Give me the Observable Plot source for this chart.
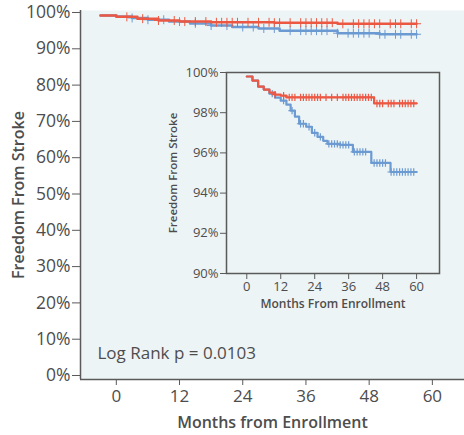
<!DOCTYPE html>
<html><head><meta charset="utf-8">
<script src="https://cdn.jsdelivr.net/npm/d3@7"></script>
<script src="https://cdn.jsdelivr.net/npm/@observablehq/plot@0.6"></script>
<style>
body{margin:0;background:#fff;}
#wrap{position:relative;width:464px;height:435px;}
#inset{position:absolute;left:160px;top:60px;}
svg{display:block;overflow:visible;}
</style></head><body><div id="wrap"><div id="main"></div><div id="inset"></div></div>
<script>
// ---- data: main chart (months, % freedom from stroke) ----
const mainRedT = [-3, 0, 4, 8, 12, 18, 30, 42, 57];
const mainRedS = [99.2, 98.8, 98.3, 97.8, 97.5, 97.3, 97.2, 96.9, 96.9];
const mainBlueT = [-3, 0, 3, 6, 10, 14, 18, 22, 27, 31, 42, 50, 57];
const mainBlueS = [99.2, 98.9, 98.5, 98.0, 97.5, 97.0, 96.4, 96.0, 95.6, 95.0, 94.3, 94.0, 94.0];
const mainRedCensor = [2, 5, 8, 11, 13, 15, 17, 19, 20, 21, 22, 23, 25, 27, 29, 30, 31, 33, 35, 36, 37, 38, 39, 40, 41, 43, 45, 46, 47, 48, 49, 50, 52, 53, 54, 56, 57];
const mainBlueCensor = [3, 6, 9, 12, 15, 18, 21, 24, 26, 28, 30, 33, 35, 36, 37, 38, 39, 40, 42, 44, 45, 46, 47, 48, 50, 51, 53, 54, 56, 57];
// ---- data: inset ----
const insetRedT = [0, 2, 4, 6, 8, 10, 12, 14, 45, 60];
const insetRedS = [99.8, 99.6, 99.3, 99.15, 99.0, 98.9, 98.85, 98.76, 98.46, 98.46];
const insetBlueT = [0, 2, 4, 6, 8, 10, 12, 14, 15.5, 17, 18.5, 21, 23, 25, 27, 28.5, 33, 37.5, 44, 50.8, 60];
const insetBlueS = [99.8, 99.6, 99.3, 99.15, 98.95, 98.75, 98.6, 98.4, 98.1, 97.8, 97.45, 97.3, 97.0, 96.8, 96.6, 96.45, 96.4, 96.05, 95.5, 95.05, 95.05];
const insetRedCensor = [10, 13, 15, 16, 17, 19, 20, 21, 22, 23, 24, 25, 26, 28, 30, 32, 34, 35, 36, 37, 38, 39, 40, 41, 42, 43, 44, 46, 47, 48, 50, 51, 52, 54, 55, 56, 57, 58, 59];
const insetBlueCensor = [9, 13, 16, 19, 20, 22, 24, 26, 29, 30, 31, 32, 33, 34, 35, 36, 38, 39, 40, 41, 42, 45, 46, 47, 48, 49, 51, 52, 53, 54, 55, 56, 57, 58, 59];
const xTicks = [0, 12, 24, 36, 48, 60];
const mainYTicks = [0, 0.1, 0.2, 0.3, 0.4, 0.5, 0.6, 0.7, 0.8, 0.9, 1.0];
const insetYTicks = [0.90, 0.92, 0.94, 0.96, 0.98, 1.00];

const RED = "#ec5843", BLUE = "#6c9ad2", BG = "#edf4f5", AX = "#5a5a5a", TXT = "#4d4d4d";
const FONT = "'Open Sans', sans-serif";

const rows = (T, S) => T.map((t, i) => ({t, s: S[i] / 100}));
function stepAt(T, S, t) { let v = S[0]; for (let i = 0; i < T.length; i++) if (T[i] <= t) v = S[i]; return v / 100; }
const cens = (C, T, S) => C.map(t => ({t, s: stepAt(T, S, t)}));

const mXd = [-6.8, 66.1], mYd = [-0.011, 1.0055];
const main = Plot.plot({
  width: 464, height: 435,
  marginLeft: 80, marginRight: 0, marginTop: 10, marginBottom: 56,
  style: {fontFamily: FONT, fontSize: "17px", color: TXT, background: "transparent"},
  x: {domain: mXd},
  y: {domain: mYd},
  marks: [
    Plot.frame({fill: BG, stroke: null}),
    Plot.axisY({ticks: mainYTicks, tickFormat: d3.format(".0%"), tickSize: 8, tickPadding: 2, label: null, stroke: AX, fontSize: 17.5}),
    Plot.axisX({ticks: xTicks, tickSize: 6, tickPadding: 4, label: null, stroke: AX, fontSize: 17}),
    Plot.ruleX([mXd[0]], {stroke: AX, strokeWidth: 1.5}),
    Plot.ruleY([mYd[0]], {stroke: AX, strokeWidth: 1.5}),
    Plot.line(rows(mainBlueT, mainBlueS), {x: "t", y: "s", curve: "step-after", stroke: BLUE, strokeWidth: 2.5}),
    Plot.dot(cens(mainBlueCensor, mainBlueT, mainBlueS), {x: "t", y: "s", symbol: "plus", r: 3, stroke: BLUE, strokeWidth: 1}),
    Plot.line(rows(mainRedT, mainRedS), {x: "t", y: "s", curve: "step-after", stroke: RED, strokeWidth: 2.5}),
    Plot.dot(cens(mainRedCensor, mainRedT, mainRedS), {x: "t", y: "s", symbol: "plus", r: 3, stroke: RED, strokeWidth: 1}),
    Plot.text(["Log Rank p = 0.0103"], {frameAnchor: "bottom-left", textAnchor: "start", lineAnchor: "middle", dx: 17, dy: -26, fontSize: 17, fill: TXT}),
    Plot.text(["Months from Enrollment"], {frameAnchor: "bottom", textAnchor: "middle", lineAnchor: "middle", dy: 43, fontSize: 16, fontWeight: 600, fill: TXT}),
    Plot.text(["Freedom From Stroke"], {frameAnchor: "left", textAnchor: "middle", rotate: -90, lineAnchor: "middle", dx: -62, fontSize: 16, fontWeight: 600, fill: TXT})
  ]
});
document.getElementById("main").append(main);

const inset = Plot.plot({
  width: 282, height: 255,
  marginLeft: 66, marginRight: 3, marginTop: 12, marginBottom: 42,
  style: {fontFamily: FONT, fontSize: "13px", color: TXT, background: "transparent"},
  x: {domain: [-7.17, 68.1]},
  y: {domain: [0.90, 1.00]},
  marks: [
    Plot.frame({fill: BG, stroke: null}),
    Plot.axisY({ticks: insetYTicks, tickFormat: d3.format(".0%"), tickSize: 6, tickPadding: 2, label: null, stroke: AX, fontSize: 13}),
    Plot.axisX({ticks: xTicks, tickSize: 6, tickPadding: 2, label: null, stroke: AX, fontSize: 13}),
    Plot.line(rows(insetBlueT, insetBlueS), {x: "t", y: "s", curve: "step-after", stroke: BLUE, strokeWidth: 2.2}),
    Plot.dot(cens(insetBlueCensor, insetBlueT, insetBlueS), {x: "t", y: "s", symbol: "plus", r: 2.5, stroke: BLUE, strokeWidth: 1.2}),
    Plot.line(rows(insetRedT, insetRedS), {x: "t", y: "s", curve: "step-after", stroke: RED, strokeWidth: 2.2}),
    Plot.dot(cens(insetRedCensor, insetRedT, insetRedS), {x: "t", y: "s", symbol: "plus", r: 2.5, stroke: RED, strokeWidth: 1.2}),
    Plot.frame({stroke: AX, strokeWidth: 1.5}),
    Plot.text(["Months From Enrollment"], {frameAnchor: "bottom", textAnchor: "middle", lineAnchor: "middle", dy: 31, fontSize: 12, fontWeight: 600, fill: TXT}),
    Plot.text(["Freedom From Stroke"], {frameAnchor: "left", textAnchor: "middle", rotate: -90, lineAnchor: "middle", dx: -53, fontSize: 11.5, fontWeight: 600, fill: TXT})
  ]
});
document.getElementById("inset").append(inset);
</script>
</body></html>
